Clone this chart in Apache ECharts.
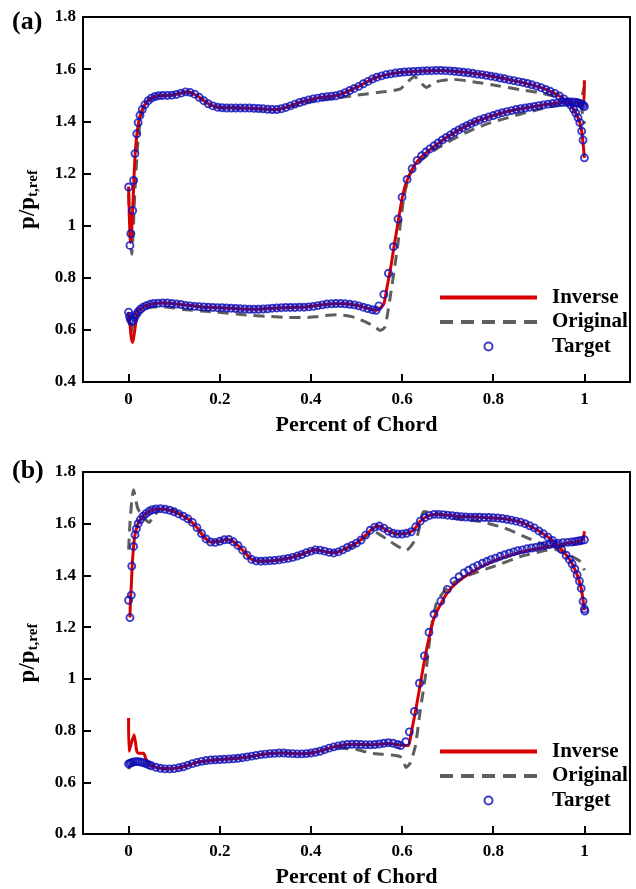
<!DOCTYPE html>
<html>
<head>
<meta charset="utf-8">
<script src="https://cdn.jsdelivr.net/npm/echarts@6/dist/echarts.min.js"></script>
<style>html,body{margin:0;padding:0;background:#fff;}#c{width:636px;height:889px;}</style>
</head>
<body>
<div id="c"></div>
<script>
// ---------- data ----------
const xTickValues = [0, 0.2, 0.4, 0.6, 0.8, 1];
const panelLabels = ['(a)', '(b)'];
const xTitle = 'Percent of Chord';
const legendNames = ['Inverse', 'Original', 'Target'];

// Panel (a)
const tgtAUpper = [[0,1.148],[0.003,0.924],[0.005,0.969],[0.009,1.058],[0.011,1.173],[0.014,1.276],[0.018,1.352],[0.021,1.395],[0.025,1.423],[0.03,1.445],[0.036,1.464],[0.043,1.479],[0.05,1.489],[0.058,1.495],[0.066,1.498],[0.075,1.499],[0.085,1.499],[0.095,1.500],[0.105,1.503],[0.115,1.508],[0.125,1.513],[0.135,1.511],[0.145,1.504],[0.155,1.492],[0.165,1.479],[0.175,1.467],[0.185,1.459],[0.195,1.454],[0.205,1.452],[0.215,1.451],[0.225,1.451],[0.235,1.451],[0.245,1.451],[0.255,1.451],[0.265,1.451],[0.275,1.450],[0.285,1.449],[0.295,1.448],[0.305,1.446],[0.315,1.445],[0.325,1.445],[0.335,1.448],[0.345,1.453],[0.355,1.459],[0.365,1.466],[0.375,1.472],[0.385,1.477],[0.395,1.482],[0.405,1.486],[0.415,1.489],[0.425,1.492],[0.435,1.494],[0.445,1.496],[0.455,1.498],[0.465,1.503],[0.475,1.510],[0.485,1.518],[0.495,1.526],[0.505,1.534],[0.515,1.544],[0.525,1.553],[0.535,1.562],[0.545,1.569],[0.555,1.574],[0.565,1.579],[0.575,1.582],[0.585,1.585],[0.595,1.587],[0.605,1.589],[0.615,1.590],[0.625,1.591],[0.635,1.592],[0.645,1.593],[0.655,1.594],[0.665,1.594],[0.675,1.595],[0.685,1.595],[0.695,1.594],[0.705,1.593],[0.715,1.592],[0.725,1.590],[0.735,1.588],[0.745,1.586],[0.755,1.584],[0.765,1.581],[0.775,1.579],[0.785,1.576],[0.795,1.573],[0.805,1.570],[0.815,1.566],[0.825,1.563],[0.835,1.559],[0.845,1.556],[0.855,1.552],[0.865,1.549],[0.875,1.545],[0.885,1.540],[0.895,1.535],[0.905,1.529],[0.915,1.522],[0.925,1.515],[0.935,1.507],[0.945,1.497],[0.955,1.486],[0.963,1.474],[0.97,1.462],[0.976,1.447],[0.981,1.432],[0.986,1.414],[0.99,1.395],[0.994,1.362],[0.997,1.328],[1.0,1.26]];
const tgtALower = [[0,0.668],[0.002,0.652],[0.004,0.640],[0.007,0.632],[0.010,0.636],[0.013,0.647],[0.017,0.659],[0.021,0.670],[0.026,0.679],[0.032,0.687],[0.039,0.693],[0.047,0.698],[0.055,0.701],[0.065,0.702],[0.075,0.703],[0.085,0.703],[0.095,0.701],[0.105,0.699],[0.115,0.697],[0.125,0.694],[0.135,0.692],[0.145,0.690],[0.155,0.689],[0.165,0.688],[0.175,0.687],[0.185,0.686],[0.195,0.685],[0.205,0.685],[0.215,0.684],[0.225,0.683],[0.235,0.682],[0.245,0.681],[0.255,0.680],[0.265,0.679],[0.275,0.679],[0.285,0.679],[0.295,0.680],[0.305,0.681],[0.315,0.683],[0.325,0.684],[0.335,0.685],[0.345,0.686],[0.355,0.686],[0.365,0.686],[0.375,0.687],[0.385,0.687],[0.395,0.688],[0.405,0.690],[0.415,0.693],[0.425,0.696],[0.435,0.699],[0.445,0.700],[0.455,0.701],[0.465,0.701],[0.475,0.700],[0.485,0.698],[0.495,0.696],[0.505,0.692],[0.515,0.687],[0.525,0.682],[0.535,0.677],[0.543,0.675],[0.549,0.692],[0.560,0.736],[0.570,0.817],[0.581,0.919],[0.591,1.025],[0.600,1.109],[0.611,1.177],[0.622,1.218],[0.633,1.250],[0.643,1.268],[0.652,1.282],[0.661,1.294],[0.670,1.306],[0.679,1.317],[0.688,1.328],[0.697,1.338],[0.706,1.348],[0.715,1.358],[0.724,1.367],[0.733,1.375],[0.742,1.383],[0.751,1.391],[0.760,1.398],[0.770,1.405],[0.780,1.411],[0.790,1.417],[0.800,1.422],[0.810,1.428],[0.820,1.433],[0.830,1.437],[0.840,1.441],[0.850,1.445],[0.860,1.448],[0.870,1.451],[0.880,1.454],[0.890,1.457],[0.900,1.460],[0.910,1.463],[0.920,1.466],[0.930,1.468],[0.940,1.470],[0.950,1.472],[0.958,1.473],[0.966,1.474],[0.973,1.474],[0.980,1.473],[0.986,1.471],[0.991,1.468],[0.995,1.465],[0.998,1.461],[1.0,1.456]];
const invAUpper = [[0,1.15],[0.002,1.02],[0.004,0.935],[0.006,0.96],[0.009,1.06],[0.012,1.19],[0.015,1.29],[0.019,1.36],[0.023,1.405],[0.03,1.445],[0.04,1.474],[0.05,1.489],[0.065,1.498],[0.09,1.5],[0.11,1.506],[0.125,1.513],[0.14,1.508],[0.16,1.486],[0.18,1.462],[0.2,1.453],[0.25,1.451],[0.3,1.447],[0.325,1.445],[0.35,1.456],[0.38,1.475],[0.42,1.491],[0.455,1.498],[0.48,1.514],[0.51,1.539],[0.54,1.566],[0.57,1.58],[0.6,1.588],[0.65,1.593],[0.68,1.595],[0.72,1.591],[0.76,1.583],[0.8,1.572],[0.85,1.554],[0.9,1.532],[0.93,1.511],[0.955,1.486],[0.97,1.462],[0.981,1.432],[0.99,1.395],[0.995,1.35],[1.0,1.26]];
const invALower = [[0,0.668],[0.003,0.62],[0.006,0.57],[0.009,0.552],[0.012,0.58],[0.016,0.63],[0.02,0.664],[0.026,0.679],[0.035,0.69],[0.05,0.699],[0.07,0.703],[0.09,0.702],[0.12,0.696],[0.16,0.688],[0.2,0.685],[0.25,0.680],[0.28,0.679],[0.32,0.683],[0.36,0.686],[0.39,0.688],[0.42,0.695],[0.45,0.700],[0.47,0.701],[0.5,0.694],[0.52,0.685],[0.54,0.676],[0.548,0.677],[0.56,0.70],[0.567,0.764],[0.574,0.828],[0.581,0.905],[0.593,1.033],[0.6,1.103],[0.607,1.154],[0.62,1.21],[0.635,1.25],[0.65,1.275],[0.7,1.341],[0.75,1.39],[0.8,1.422],[0.85,1.445],[0.9,1.46],[0.95,1.472],[0.975,1.474],[0.99,1.47],[0.998,1.46],[1.0,1.557]];
const orgAUpper = [[0,1.12],[0.004,0.95],[0.007,0.89],[0.01,0.97],[0.013,1.10],[0.016,1.20],[0.02,1.31],[0.023,1.365],[0.027,1.415],[0.035,1.46],[0.05,1.488],[0.07,1.497],[0.09,1.498],[0.11,1.505],[0.125,1.51],[0.14,1.505],[0.16,1.484],[0.18,1.462],[0.2,1.452],[0.25,1.45],[0.3,1.446],[0.325,1.444],[0.35,1.453],[0.38,1.468],[0.42,1.482],[0.46,1.49],[0.5,1.50],[0.558,1.513],[0.595,1.523],[0.609,1.546],[0.627,1.571],[0.653,1.530],[0.675,1.552],[0.711,1.561],[0.755,1.552],[0.813,1.535],[0.864,1.520],[0.9,1.51],[0.937,1.494],[0.96,1.48],[0.98,1.47],[0.993,1.45],[1.0,1.39]];
const orgALower = [[0,0.66],[0.003,0.60],[0.005,0.585],[0.008,0.61],[0.012,0.65],[0.018,0.673],[0.03,0.687],[0.05,0.688],[0.08,0.688],[0.122,0.678],[0.16,0.672],[0.195,0.668],[0.253,0.658],[0.311,0.651],[0.35,0.648],[0.384,0.647],[0.41,0.650],[0.43,0.655],[0.457,0.658],[0.486,0.652],[0.5,0.645],[0.523,0.628],[0.54,0.612],[0.552,0.598],[0.562,0.61],[0.568,0.66],[0.574,0.726],[0.589,0.905],[0.604,1.109],[0.615,1.186],[0.633,1.237],[0.67,1.288],[0.714,1.333],[0.751,1.365],[0.788,1.391],[0.825,1.410],[0.862,1.429],[0.906,1.448],[0.95,1.465],[0.979,1.474],[0.993,1.49],[1.0,1.535]];

// Panel (b)
const tgtBUpper = [[0.003,1.237],[0,1.304],[0.006,1.324],[0.007,1.436],[0.011,1.512],[0.014,1.557],[0.017,1.580],[0.021,1.600],[0.026,1.616],[0.032,1.629],[0.038,1.639],[0.045,1.648],[0.052,1.654],[0.06,1.657],[0.07,1.658],[0.08,1.656],[0.09,1.652],[0.10,1.646],[0.11,1.638],[0.12,1.629],[0.13,1.619],[0.14,1.605],[0.15,1.585],[0.16,1.562],[0.17,1.541],[0.18,1.529],[0.19,1.528],[0.20,1.532],[0.21,1.538],[0.22,1.539],[0.23,1.530],[0.24,1.516],[0.25,1.498],[0.26,1.478],[0.27,1.462],[0.28,1.456],[0.29,1.455],[0.30,1.456],[0.31,1.457],[0.32,1.458],[0.33,1.460],[0.34,1.463],[0.35,1.466],[0.36,1.470],[0.37,1.475],[0.38,1.481],[0.39,1.488],[0.40,1.494],[0.41,1.499],[0.42,1.498],[0.43,1.494],[0.44,1.489],[0.45,1.487],[0.46,1.491],[0.47,1.499],[0.48,1.508],[0.49,1.516],[0.50,1.525],[0.51,1.537],[0.52,1.556],[0.53,1.575],[0.54,1.587],[0.55,1.591],[0.56,1.583],[0.57,1.571],[0.58,1.563],[0.59,1.560],[0.60,1.560],[0.61,1.563],[0.62,1.569],[0.63,1.588],[0.64,1.610],[0.65,1.624],[0.66,1.632],[0.67,1.636],[0.68,1.636],[0.69,1.635],[0.70,1.633],[0.71,1.631],[0.72,1.629],[0.73,1.627],[0.74,1.626],[0.75,1.625],[0.76,1.625],[0.77,1.625],[0.78,1.624],[0.79,1.624],[0.80,1.623],[0.81,1.622],[0.82,1.620],[0.83,1.617],[0.84,1.614],[0.85,1.610],[0.86,1.606],[0.87,1.600],[0.88,1.592],[0.89,1.584],[0.90,1.572],[0.91,1.561],[0.92,1.548],[0.93,1.535],[0.94,1.518],[0.95,1.500],[0.96,1.478],[0.967,1.462],[0.973,1.445],[0.979,1.425],[0.984,1.402],[0.989,1.378],[0.993,1.350],[0.997,1.300],[1.0,1.270],[1.001,1.262]];
const tgtBLower = [[0,0.671],[0.003,0.673],[0.006,0.676],[0.010,0.678],[0.015,0.680],[0.020,0.680],[0.025,0.679],[0.030,0.677],[0.035,0.674],[0.040,0.671],[0.045,0.667],[0.050,0.664],[0.060,0.658],[0.070,0.654],[0.080,0.652],[0.090,0.652],[0.100,0.653],[0.110,0.656],[0.120,0.660],[0.130,0.666],[0.140,0.672],[0.150,0.677],[0.160,0.681],[0.170,0.684],[0.180,0.686],[0.190,0.687],[0.200,0.688],[0.210,0.689],[0.220,0.690],[0.230,0.691],[0.240,0.693],[0.250,0.695],[0.260,0.698],[0.270,0.701],[0.280,0.704],[0.290,0.707],[0.300,0.709],[0.310,0.711],[0.320,0.712],[0.330,0.713],[0.340,0.713],[0.350,0.712],[0.360,0.711],[0.370,0.710],[0.380,0.710],[0.390,0.711],[0.400,0.713],[0.410,0.716],[0.420,0.720],[0.430,0.726],[0.440,0.732],[0.450,0.737],[0.460,0.741],[0.470,0.744],[0.480,0.746],[0.490,0.747],[0.500,0.747],[0.510,0.746],[0.520,0.745],[0.530,0.745],[0.540,0.746],[0.550,0.748],[0.560,0.751],[0.570,0.753],[0.580,0.751],[0.590,0.746],[0.597,0.742],[0.608,0.757],[0.616,0.795],[0.627,0.874],[0.638,0.983],[0.649,1.089],[0.659,1.18],[0.670,1.25],[0.685,1.301],[0.699,1.346],[0.714,1.378],[0.725,1.395],[0.736,1.410],[0.746,1.420],[0.756,1.430],[0.766,1.439],[0.776,1.447],[0.786,1.454],[0.795,1.461],[0.805,1.467],[0.815,1.474],[0.825,1.480],[0.835,1.486],[0.845,1.491],[0.854,1.496],[0.864,1.499],[0.874,1.503],[0.884,1.506],[0.894,1.509],[0.904,1.513],[0.913,1.516],[0.923,1.519],[0.933,1.522],[0.943,1.525],[0.953,1.527],[0.963,1.528],[0.972,1.529],[0.980,1.531],[0.987,1.533],[0.993,1.535],[1.0,1.538]];
const invBUpper = [[0.003,1.237],[0.004,1.30],[0.006,1.36],[0.008,1.44],[0.011,1.512],[0.014,1.557],[0.02,1.597],[0.03,1.626],[0.045,1.648],[0.06,1.657],[0.075,1.657],[0.09,1.652],[0.11,1.638],[0.13,1.619],[0.15,1.585],[0.165,1.55],[0.18,1.529],[0.2,1.532],[0.215,1.54],[0.23,1.53],[0.25,1.498],[0.27,1.462],[0.29,1.455],[0.33,1.46],[0.37,1.475],[0.41,1.499],[0.44,1.489],[0.455,1.488],[0.48,1.508],[0.5,1.525],[0.52,1.556],[0.54,1.587],[0.55,1.591],[0.57,1.571],[0.59,1.56],[0.61,1.563],[0.625,1.575],[0.64,1.61],[0.66,1.632],[0.68,1.636],[0.72,1.629],[0.78,1.624],[0.82,1.62],[0.86,1.606],[0.9,1.572],[0.93,1.535],[0.95,1.5],[0.97,1.455],[0.984,1.402],[0.993,1.35],[1.0,1.265]];
const invBLower = [[0,0.849],[0.001,0.72],[0.012,0.784],[0.018,0.72],[0.022,0.712],[0.033,0.712],[0.038,0.69],[0.045,0.672],[0.05,0.664],[0.07,0.654],[0.09,0.652],[0.12,0.66],[0.15,0.677],[0.2,0.688],[0.25,0.695],[0.3,0.709],[0.34,0.713],[0.38,0.710],[0.41,0.716],[0.45,0.737],[0.49,0.747],[0.53,0.745],[0.57,0.75],[0.6,0.743],[0.614,0.742],[0.62,0.79],[0.63,0.88],[0.64,0.98],[0.65,1.08],[0.66,1.165],[0.67,1.235],[0.685,1.29],[0.7,1.335],[0.72,1.372],[0.75,1.41],[0.8,1.455],[0.85,1.485],[0.9,1.505],[0.95,1.52],[0.98,1.53],[0.996,1.538],[1.0,1.571]];
const orgBUpper = [[0,1.50],[0.003,1.60],[0.007,1.69],[0.011,1.731],[0.015,1.70],[0.02,1.66],[0.03,1.63],[0.045,1.605],[0.055,1.63],[0.07,1.655],[0.09,1.662],[0.11,1.642],[0.13,1.619],[0.15,1.585],[0.165,1.55],[0.18,1.529],[0.2,1.532],[0.215,1.54],[0.23,1.53],[0.25,1.498],[0.27,1.462],[0.29,1.455],[0.33,1.46],[0.37,1.476],[0.41,1.500],[0.44,1.490],[0.46,1.492],[0.48,1.505],[0.5,1.52],[0.537,1.57],[0.574,1.531],[0.609,1.497],[0.633,1.551],[0.648,1.647],[0.677,1.64],[0.714,1.621],[0.773,1.608],[0.825,1.583],[0.876,1.544],[0.92,1.512],[0.965,1.48],[0.99,1.455],[1.0,1.42]];
const orgBLower = [[0,0.65],[0.005,0.67],[0.015,0.678],[0.03,0.676],[0.05,0.664],[0.07,0.654],[0.09,0.652],[0.12,0.66],[0.15,0.677],[0.2,0.688],[0.25,0.695],[0.3,0.709],[0.34,0.713],[0.38,0.710],[0.42,0.72],[0.45,0.735],[0.48,0.73],[0.5,0.727],[0.53,0.713],[0.558,0.708],[0.595,0.70],[0.603,0.68],[0.609,0.657],[0.618,0.675],[0.629,0.739],[0.64,0.879],[0.652,1.02],[0.663,1.186],[0.677,1.301],[0.707,1.365],[0.751,1.404],[0.803,1.436],[0.862,1.474],[0.906,1.493],[0.95,1.512],[0.98,1.522],[1.0,1.53]];

// ---------- styles ----------
const FONT = '"Liberation Serif", "Times New Roman", serif';
const RED = '#d80000', GRAY = '#5e5e5e', BLUE = '#0c0cb8';
const grids = [{top: 17}, {top: 472}];

const chart = echarts.init(document.getElementById('c'), null, {renderer: 'canvas'});

function xAxisFor(i) {
  return {
    gridIndex: i, type: 'value', min: -0.1, max: 1.1,
    axisLine: {show: true, onZero: false, lineStyle: {color: '#000', width: 2}},
    axisTick: {show: true, inside: true, length: 8, customValues: xTickValues, lineStyle: {color: '#000', width: 2}},
    axisLabel: {customValues: xTickValues, margin: 9, color: '#000', fontFamily: FONT, fontWeight: 'bold', fontSize: 17},
    splitLine: {show: false},
    name: xTitle, nameLocation: 'middle', nameGap: 32,
    nameTextStyle: {color: '#000', fontFamily: FONT, fontWeight: 'bold', fontSize: 22}
  };
}
function yAxisFor(i) {
  return {
    gridIndex: i, type: 'value', min: 0.4, max: 1.8, interval: 0.2,
    axisLine: {show: true, onZero: false, lineStyle: {color: '#000', width: 2}},
    axisTick: {show: true, inside: true, length: 8, lineStyle: {color: '#000', width: 2}},
    axisLabel: {margin: 7, color: '#000', fontFamily: FONT, fontWeight: 'bold', fontSize: 17},
    splitLine: {show: false},
    name: '{a|p/p}{b|t,ref}', nameLocation: 'middle', nameGap: 40,
    nameTextStyle: {
      color: '#000',
      rich: {
        a: {fontFamily: FONT, fontWeight: 'bold', fontSize: 23, color: '#000', lineHeight: 30},
        b: {fontFamily: FONT, fontWeight: 'bold', fontSize: 15, color: '#000', lineHeight: 30, padding: [10, 0, 0, 0]}
      }
    }
  };
}
function lineSeries(name, data, i, color, dashed, z) {
  return {
    type: 'line', name: name, data: data, xAxisIndex: i, yAxisIndex: i,
    showSymbol: false, symbol: 'none', smooth: 0.2, z: z,
    lineStyle: {color: color, width: 3, type: dashed ? [11, 7] : 'solid'},
    itemStyle: {color: color}, emphasis: {disabled: true}, silent: true
  };
}
function scatterSeries(data, i) {
  return {
    type: 'scatter', name: 'Target', data: data, xAxisIndex: i, yAxisIndex: i,
    symbol: 'circle', symbolSize: 7, z: 5,
    itemStyle: {color: 'rgba(0,0,0,0)', borderColor: BLUE, borderWidth: 1.9},
    emphasis: {disabled: true}, silent: true
  };
}
const legendText = {color: '#000', fontFamily: FONT, fontWeight: 'bold', fontSize: 21, padding: [0, 0, 0, 10]};
function legendFor(top) {
  return {
    data: [
      {name: legendNames[0], itemStyle: {opacity: 0}, lineStyle: {width: 4}},
      {name: legendNames[1], itemStyle: {opacity: 0}, lineStyle: {width: 4, type: [13, 8]}},
      {name: legendNames[2], icon: 'path://M0,0M97,14M44.5,7a4,4 0 1,0 8,0a4,4 0 1,0 -8,0', itemStyle: {color: 'rgba(0,0,0,0)', borderColor: BLUE, borderWidth: 2}}
    ],
    orient: 'vertical', left: 438, top: top, itemWidth: 97, itemHeight: 14, itemGap: 3.5,
    padding: 0, selectedMode: false, textStyle: legendText
  };
}

const option = {
  backgroundColor: '#fff',
  animation: false,
  title: panelLabels.map((t, i) => ({text: t, left: 12, top: i === 0 ? 9 : 458, padding: 0,
    textStyle: {color: '#000', fontFamily: FONT, fontWeight: 'bold', fontSize: 26}})),
  legend: [legendFor(287), legendFor(741)],
  grid: grids.map(g => ({left: 83, top: g.top, width: 547, height: 365, show: true, borderColor: '#000', borderWidth: 2})),
  xAxis: [xAxisFor(0), xAxisFor(1)],
  yAxis: [yAxisFor(0), yAxisFor(1)],
  series: [
    lineSeries('Original', orgAUpper, 0, GRAY, true, 2),
    lineSeries('Original', orgALower, 0, GRAY, true, 2),
    lineSeries('Inverse', invAUpper, 0, RED, false, 3),
    lineSeries('Inverse', invALower, 0, RED, false, 3),
    scatterSeries(tgtAUpper, 0),
    scatterSeries(tgtALower, 0),
    lineSeries('Original', orgBUpper, 1, GRAY, true, 2),
    lineSeries('Original', orgBLower, 1, GRAY, true, 2),
    lineSeries('Inverse', invBUpper, 1, RED, false, 3),
    lineSeries('Inverse', invBLower, 1, RED, false, 3),
    scatterSeries(tgtBUpper, 1),
    scatterSeries(tgtBLower, 1)
  ]
};
chart.setOption(option);
</script>
</body>
</html>
